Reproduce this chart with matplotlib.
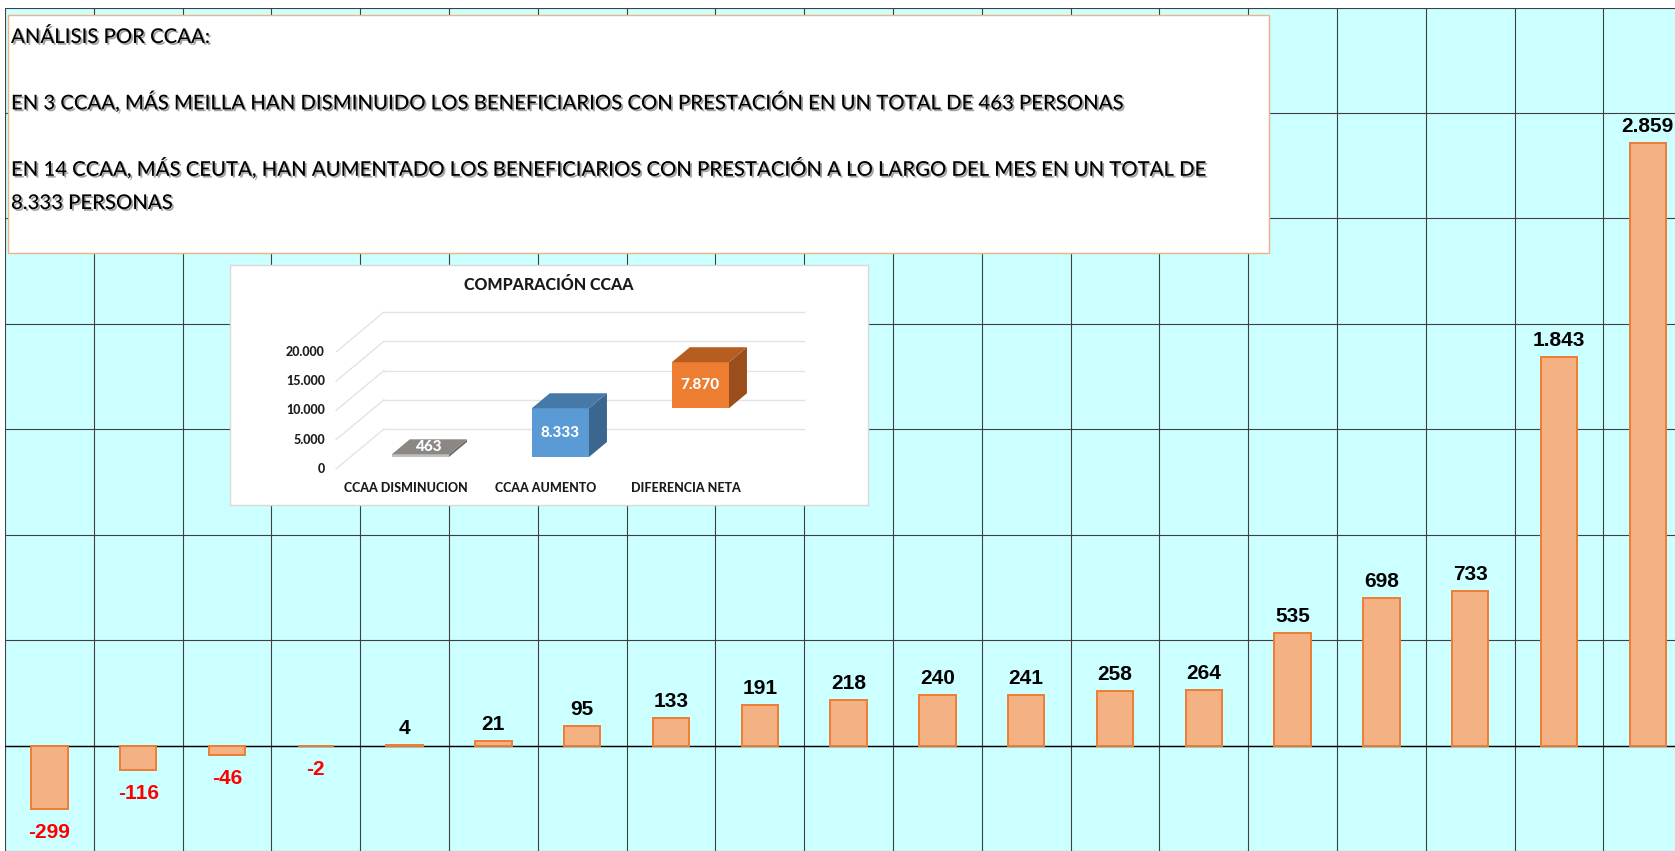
import matplotlib
matplotlib.use("Agg")
import matplotlib.pyplot as plt
import matplotlib.patheffects as pe
from matplotlib.patches import Polygon, Rectangle
import numpy as np

W, H = 1675, 851

## main chart data (net change per CCAA)
ccaa_values = [-299, -116, -46, -2, 4, 21, 95, 133, 191, 218, 240, 241,
               258, 264, 535, 698, 733, 1843, 2859]

## inset "COMPARACION CCAA"
inset_title = "COMPARACIÓN CCAA"
inset_cats = ["CCAA DISMINUCION", "CCAA AUMENTO", "DIFERENCIA NETA"]
inset_values = [463, 8333, 7870]
inset_bases = [0, 0, 8333]
inset_ticks = [0, 5000, 10000, 15000, 20000]

box_lines = [
    "ANÁLISIS POR CCAA:",
    "",
    "EN 3 CCAA, MÁS MEILLA HAN DISMINUIDO LOS BENEFICIARIOS CON PRESTACIÓN EN UN TOTAL DE 463 PERSONAS",
    "",
    "EN 14 CCAA, MÁS CEUTA, HAN AUMENTADO LOS BENEFICIARIOS CON PRESTACIÓN A LO LARGO DEL MES EN UN TOTAL DE",
    "8.333 PERSONAS",
]


def fmt(v):
    return "{:,}".format(v).replace(",", ".")


inset_font = "Lato"
inset_w = 900

fig = plt.figure(figsize=(W / 100, H / 100), dpi=100, facecolor="white")

## ---- main bar chart
cell = 88.8
n = len(ccaa_values)
ax = fig.add_axes([5 / W, 0, n * cell / W, (H - 7.5) / H])
ax.set_facecolor("#CCFFFF")
x = np.arange(n)
ax.bar(x, ccaa_values, width=0.41, color="#F4B183", edgecolor="#ED7D31",
       linewidth=1.4, zorder=3)
ax.set_xlim(-0.5, n - 0.5)
ax.set_ylim(-500, 3500)
ax.set_yticks(range(-500, 3501, 500))
ax.set_xticks(np.arange(-0.5, n, 1.0))
ax.tick_params(length=0, labelleft=False, labelbottom=False)
ax.grid(True, color="#404040", linewidth=0.8, zorder=1)
ax.set_axisbelow(True)
ax.axhline(0, color="black", linewidth=1.0, zorder=2)
for s in ax.spines.values():
    s.set_visible(False)

for xi, v in zip(x, ccaa_values):
    if v >= 0:
        ax.annotate(fmt(v), (xi, v), xytext=(0, 5), textcoords="offset points",
                    ha="center", va="bottom", fontsize=15, fontweight="bold",
                    family="Liberation Sans", color="black", zorder=4)
    else:
        ax.annotate(fmt(v), (xi, v), xytext=(0, -10), textcoords="offset points",
                    ha="center", va="top", fontsize=15, fontweight="bold",
                    family="Liberation Sans", color="#FF0000", zorder=4)

## ---- text box
fig.patches.append(Rectangle((8 / W, 1 - 253 / H), (1269 - 8) / W, (253 - 15) / H,
                             transform=fig.transFigure, facecolor="white",
                             edgecolor="#F4B183", linewidth=1.0, zorder=5))
box_font = "Lato"
shadow = [pe.withSimplePatchShadow(offset=(1.3, -1.3), shadow_rgbFace="#666666", alpha=0.6)]
renderer = fig.canvas.get_renderer()
probe = fig.text(0, 0, box_lines[2], fontsize=20, family=box_font, fontweight="medium")
fs_box = 20 * 1115 / probe.get_window_extent(renderer).width
probe.remove()
for i, line in enumerate(box_lines):
    if not line:
        continue
    fig.text(11 / W, 1 - (43 + 33.2 * i) / H, line, fontsize=fs_box, family=box_font,
             fontweight="medium", ha="left", va="baseline", color="black", zorder=6,
             path_effects=shadow)

## ---- inset pseudo 3D chart
ix0, iy0, ix1, iy1 = 230, 265, 868, 505
ax3 = fig.add_axes([ix0 / W, 1 - iy1 / H, (ix1 - ix0) / W, (iy1 - iy0) / H])
ax3.set_facecolor("white")
px_cat = 140.0
px_val = 117.0 / 20000
x0_px, y0_px = 406, 469
ax3.set_xlim(-(x0_px - ix0) / px_cat, (ix1 - x0_px) / px_cat)
ax3.set_ylim(-(iy1 - y0_px) / px_val, (y0_px - iy0) / px_val)
ax3.set_xticks([])
ax3.set_yticks([])
for s in ax3.spines.values():
    s.set_color("#D9D9D9")
    s.set_linewidth(1.0)

DX = 48 / px_cat
DY = 40 / px_val
for t in inset_ticks:
    ax3.plot([-0.5, -0.5 + DX], [t, t + DY], color="#E3E3E3", lw=1.0, zorder=1)
    ax3.plot([-0.5 + DX, 2.5 + DX], [t + DY, t + DY], color="#E3E3E3", lw=1.0, zorder=1)
    ax3.text(-0.58, t, fmt(t), ha="right", va="center", fontsize=9,
             fontweight=inset_w, family=inset_font, color="#1f1f1f")

faces = [("#BFBFBF", "#8B8784", "#6F6B68"),
         ("#5B9BD5", "#4678A8", "#3A6690"),
         ("#ED7D31", "#B65E22", "#9A4E1C")]
d0, bd, hw = 0.3, 0.375, 0.204
for i, (b, v, (cf, ct, cs)) in enumerate(zip(inset_bases, inset_values, faces)):
    xa = i - hw + d0 * DX
    xb = i + hw + d0 * DX
    ya = b + d0 * DY
    yb = b + v + d0 * DY
    ex, ey = bd * DX, bd * DY
    ax3.add_patch(Polygon([(xb, ya), (xb, yb), (xb + ex, yb + ey), (xb + ex, ya + ey)],
                          closed=True, facecolor=cs, edgecolor="none", zorder=3))
    ax3.add_patch(Polygon([(xa, ya), (xb, ya), (xb, yb), (xa, yb)],
                          closed=True, facecolor=cf, edgecolor="none", zorder=3))
    ax3.add_patch(Polygon([(xa, yb), (xb, yb), (xb + ex, yb + ey), (xa + ex, yb + ey)],
                          closed=True, facecolor=ct, edgecolor="none", zorder=3))
    if v < 2000:
        lx, ly = i + d0 * DX + ex / 2, yb + ey / 2
    else:
        lx, ly = i + d0 * DX, b + v / 2 + d0 * DY
    ax3.text(lx, ly, fmt(v), ha="center", va="center", fontsize=11,
             fontweight=inset_w, family=inset_font, color="white", zorder=4)

for i, c in enumerate(inset_cats):
    ax3.text(i, -(488 - y0_px) / px_val, c, ha="center", va="center", fontsize=9,
             fontweight=inset_w, family=inset_font, color="#1a1a1a")
ax3.text(0.5, 1 - (285 - iy0) / (iy1 - iy0), inset_title, transform=ax3.transAxes,
         ha="center", va="center", fontsize=11.5, fontweight=inset_w, family=inset_font,
         color="#1a1a1a")

fig.savefig("out.png", dpi=100, facecolor="white")
